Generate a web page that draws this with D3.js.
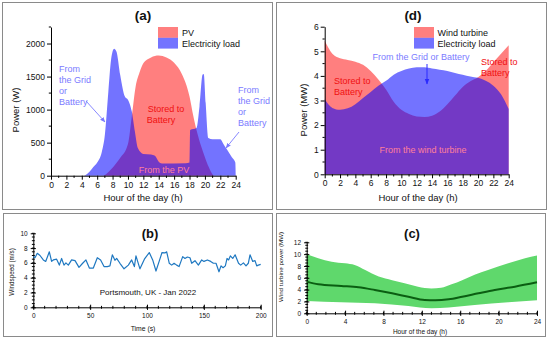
<!DOCTYPE html>
<html>
<head>
<meta charset="utf-8">
<script src="https://cdn.jsdelivr.net/npm/d3@7"></script>
<style>
  body { margin: 0; background: #fff; }
  svg { font-family: "Liberation Sans", Arial, sans-serif; display: block; }
  .domain, .tick line, .minor { stroke: #000; }
</style>
</head>
<body>
<div id="chart"></div>
<script>
// ---- (a) PV output vs household load (W) ----
const pvHours   = [0, 6.8, 7.5, 8, 9, 10, 10.5, 11, 11.5, 12, 13, 14, 15, 16, 17, 18, 18.5, 19, 19.5, 20, 20.5, 21, 21.2, 24];
const pvPower   = [0, 0, 60, 120, 270, 480, 900, 1350, 1560, 1700, 1790, 1820, 1790, 1710, 1540, 1200, 900, 650, 450, 280, 130, 20, 0, 0];
const loadHours = [0, 4.2, 5, 5.5, 6, 6.6, 7, 7.45, 7.8, 8.2, 8.5, 9, 9.6, 10, 10.5, 10.9, 11.3, 12, 13, 13.5, 14, 14.4, 17.5, 18, 18.08, 18.9, 19.3, 19.7, 19.85, 20.1, 20.45, 21, 22, 22.4, 22.85, 23.5, 23.95, 24];
const loadPower = [0, 0, 60, 130, 200, 360, 620, 1270, 1750, 1920, 1880, 1520, 1200, 1150, 970, 670, 415, 330, 320, 300, 210, 185, 190, 200, 690, 720, 1050, 1530, 1540, 1100, 570, 550, 550, 480, 400, 280, 200, 0];

// ---- (d) wind turbine output vs load (MW) ----
const dayHours    = [0, 1, 2, 3, 4, 5, 6, 7, 8, 9, 10, 11, 12, 13, 14, 15, 16, 17, 18, 19, 20, 21, 22, 23, 24];
const turbinePow  = [5.43, 4.9, 4.72, 4.65, 4.58, 4.45, 4.2, 3.85, 3.45, 2.95, 2.62, 2.45, 2.35, 2.33, 2.38, 2.55, 2.85, 3.2, 3.55, 3.78, 3.95, 4.2, 4.55, 4.9, 5.25];
const dLoadPow    = [3.05, 2.7, 2.62, 2.68, 2.85, 3.1, 3.35, 3.6, 3.8, 4.05, 4.2, 4.3, 4.35, 4.35, 4.3, 4.25, 4.2, 4.12, 4.05, 3.98, 3.92, 3.8, 3.6, 3.25, 2.65];

// ---- (b) wind speed record, Portsmouth Jan 2022 ----
const windTime  = [0, 1.5, 3.5, 5.9, 8.8, 10.9, 14.1, 16.1, 17.6, 20.5, 22.9, 24.9, 27, 28.7, 30.8, 33.7, 36.7, 40.2, 43.4, 46.3,
                   49.3, 52.8, 56.3, 59.2, 62.2, 65.1, 67.4, 69.5, 71.8, 73.3, 76.2, 79.8, 83.6, 86.5, 88.9, 90.3, 93.8, 97.7, 102, 105,
                   107.9, 110.9, 113.2, 115.8, 117.3, 119.6, 121.7, 123.8, 126.1, 128.2, 131.4, 133.4, 135.5, 137.8, 139.3, 142.2, 145.2, 148.1, 150.1, 153.1,
                   156, 158.4, 160.7, 163.3, 165.1, 166.9, 168.9, 170.4, 171.8, 173.3, 175.4, 177.5, 180.5, 182.4, 184.8, 187.1, 189.1, 190.6, 193, 195,
                   196.5, 197.9, 200];
const windSpeed = [6.85, 6.7, 7.3, 7.0, 6.4, 6.2, 7.5, 6.2, 6.4, 6.5, 5.7, 6.6, 5.7, 6.0, 5.7, 6.4, 6.3, 5.4, 5.95, 6.4,
                   5.3, 5.3, 6.7, 6.4, 5.5, 5.5, 5.6, 7.1, 6.35, 6.6, 5.95, 5.2, 5.7, 6.4, 5.5, 6.95, 5.2, 6.5, 7.4, 6.4,
                   4.9, 6.3, 7.4, 7.35, 7.5, 5.95, 5.7, 5.95, 5.7, 5.5, 6.85, 6.6, 6.8, 6.7, 5.95, 6.3, 5.7, 6.4, 6.2, 6.4,
                   6.2, 5.95, 5.95, 4.8, 5.6, 5.35, 5.6, 6.6, 6.4, 6.95, 6.6, 7.1, 5.95, 5.7, 6.0, 5.6, 5.95, 7.1, 6.2, 6.3,
                   5.6, 5.7, 5.8];

// ---- (c) turbine power over the day: mean with min/max band (MW) ----
const bandHours = [0, 1.2, 2.6, 4, 5, 6.1, 7.5, 8.9, 10.2, 11.6, 13, 14, 15.1, 16.2, 17.5, 18.9, 21, 22.75, 24];
const bandHigh  = [9.97, 9.3, 8.73, 8.45, 8.17, 7.3, 6.2, 5.6, 5.07, 4.5, 4.2, 4.3, 4.9, 5.6, 6.5, 7.3, 8.45, 9.3, 9.75];
const lowHours  = [0, 3.6, 7.1, 10.6, 13, 14.8, 17.5, 21, 24];
const bandLow   = [2.08, 1.86, 1.7, 1.24, 0.85, 1.0, 1.4, 1.86, 2.2];
const meanHours = [0, 1.2, 3.6, 5.4, 7.1, 8.9, 10.6, 12.3, 13.4, 14.8, 16.2, 17.9, 19.6, 21.7, 24];
const meanPow   = [5.35, 4.9, 4.62, 4.4, 3.94, 3.38, 2.8, 2.25, 2.2, 2.37, 2.8, 3.38, 3.94, 4.5, 5.24];

const W = 550, H = 340;
const svg = d3.select('#chart').append('svg').attr('width', W).attr('height', H);
svg.append('rect').attr('width', W).attr('height', H).attr('fill', '#fff');

// panel frames
[[2.5, 2.5, 270, 207], [276.5, 2.5, 270, 207], [3.5, 213.5, 269, 123], [276.5, 213.5, 269, 123]]
  .forEach(([x, y, w, h]) => svg.append('rect').attr('x', x).attr('y', y).attr('width', w).attr('height', h)
    .attr('fill', 'none').attr('stroke', '#8a8a8a').attr('stroke-width', 1));

const fmt = d3.format('~g');

// axes with major + minor ticks; cross=true draws ticks through the axis line
function axes(x, y, o) {
  const g = svg.append('g');
  const xg = g.append('g').attr('transform', `translate(0,${y.range()[0]})`)
    .call(d3.axisBottom(x).tickValues(o.xMajor).tickFormat(fmt).tickSize(o.tick).tickSizeOuter(0).tickPadding(o.pad));
  const yg = g.append('g').attr('transform', `translate(${x.range()[0]},0)`)
    .call(d3.axisLeft(y).tickValues(o.yMajor).tickFormat(fmt).tickSize(o.tick).tickSizeOuter(0).tickPadding(o.pad));
  [xg, yg].forEach(a => {
    a.selectAll('text').attr('font-size', o.font).attr('fill', '#111').attr('font-family', null);
    a.select('.domain').attr('stroke-width', 1);
  });
  if (o.cross) {
    xg.selectAll('.tick line').attr('y1', -o.tick);
    yg.selectAll('.tick line').attr('x1', o.tick);
  }
  const m = o.tick * 0.55;
  xg.selectAll('.minor').data(o.xMinor).join('line').attr('class', 'minor')
    .attr('x1', d => x(d)).attr('x2', d => x(d)).attr('y1', o.cross ? -m : 0).attr('y2', m);
  yg.selectAll('.minor').data(o.yMinor).join('line').attr('class', 'minor')
    .attr('y1', d => y(d)).attr('y2', d => y(d)).attr('x1', o.cross ? m : 0).attr('x2', -m);
  return g;
}

function label(txt, x, y, size, opt = {}) {
  const t = svg.append('text').attr('x', x).attr('y', y).attr('font-size', size)
    .attr('text-anchor', opt.anchor || 'middle').attr('fill', opt.fill || '#111').text(txt);
  if (opt.bold) t.attr('font-weight', 'bold');
  if (opt.rotate) t.attr('transform', `rotate(-90,${x},${y})`);
  return t;
}

const defs = svg.append('defs');
function arrowHead(id, col) {
  defs.append('marker').attr('id', id).attr('viewBox', '0 0 10 10').attr('refX', 9).attr('refY', 5)
    .attr('markerWidth', 6).attr('markerHeight', 6).attr('orient', 'auto')
    .append('path').attr('d', 'M0,1 L10,5 L0,9 Z').attr('fill', col);
}
arrowHead('arrA', '#7b7bff');
arrowHead('arrD', '#2a2aff');

const hourTicks = d3.range(0, 25, 2), hourMinor = d3.range(1, 24, 2);
const RED = 'rgba(255,0,0,0.5)', BLUE = 'rgba(0,0,255,0.55)';
const TXT = 9;

// ================= (a) =================
{
  const x = d3.scaleLinear().domain([0, 24]).range([51, 235.7]);
  const y = d3.scaleLinear().domain([0, 2250]).range([175.7, 27]);
  const pv = pvHours.map((h, i) => [h, pvPower[i]]);
  const ld = loadHours.map((h, i) => [h, loadPower[i]]);
  const area = d3.area().x(d => x(d[0])).y0(y(0)).y1(d => y(d[1])).curve(d3.curveMonotoneX);
  svg.append('path').datum(pv).attr('d', area).attr('fill', RED);
  svg.append('path').datum(ld).attr('d', area).attr('fill', BLUE);
  axes(x, y, { xMajor: hourTicks, xMinor: hourMinor, yMajor: d3.range(0, 2001, 500), yMinor: d3.range(250, 2251, 500),
               tick: 4, pad: 2, font: 8.5 });
  label('(a)', 143, 20, 13.5, { bold: true });
  label('Power (W)', 19, 110, 9.5, { rotate: true });
  label('Hour of the day (h)', 143, 201, 9.5);
  // legend
  [['PV', RED], ['Electricity load', BLUE]].forEach(([t, c], i) => {
    svg.append('rect').attr('x', 158).attr('y', 27 + i * 10.8).attr('width', 20).attr('height', 10.8).attr('fill', c);
    label(t, 182, 35.8 + i * 10.8, TXT, { anchor: 'start' });
  });
  const lb = '#7b7bff';
  ['From', 'the Grid', 'or', 'Battery'].forEach((t, i) => label(t, 59, 71.5 + i * 11, TXT, { anchor: 'start', fill: lb }));
  ['From', 'the Grid', 'or', 'Battery'].forEach((t, i) => label(t, 238, 92.5 + i * 11, TXT, { anchor: 'start', fill: lb }));
  svg.append('line').attr('x1', 86).attr('y1', 101).attr('x2', 105).attr('y2', 122)
    .attr('stroke', lb).attr('stroke-width', 0.9).attr('marker-end', 'url(#arrA)');
  svg.append('line').attr('x1', 239).attr('y1', 132).attr('x2', 226).attr('y2', 148)
    .attr('stroke', lb).attr('stroke-width', 0.9).attr('marker-end', 'url(#arrA)');
  label('Stored to', 166, 112, TXT, { fill: '#f01010' });
  label('Battery', 161, 123, TXT, { fill: '#f01010' });
  label('From the PV', 164, 173, TXT, { fill: '#ff7f9a' });
}

// ================= (d) =================
{
  const x = d3.scaleLinear().domain([0, 24]).range([324.7, 508.7]);
  const y = d3.scaleLinear().domain([0, 6]).range([174.3, 26.7]);
  const area = d3.area().x((d, i) => x(dayHours[i])).y0(y(0)).y1(d => y(d)).curve(d3.curveMonotoneX);
  svg.append('path').datum(turbinePow).attr('d', area).attr('fill', RED);
  svg.append('path').datum(dLoadPow).attr('d', area).attr('fill', BLUE);
  axes(x, y, { xMajor: hourTicks, xMinor: hourMinor, yMajor: d3.range(0, 7), yMinor: d3.range(0.5, 6, 1),
               tick: 4, pad: 2, font: 8.5 });
  label('(d)', 413, 20, 13.5, { bold: true });
  label('Power (MW)', 307, 110, 9.5, { rotate: true });
  label('Hour of the day (h)', 418, 201, 9.5);
  [['Wind turbine', RED], ['Electricity load', BLUE]].forEach(([t, c], i) => {
    svg.append('rect').attr('x', 414).attr('y', 27 + i * 10.8).attr('width', 20).attr('height', 10.8).attr('fill', c);
    label(t, 437.5, 35.8 + i * 10.8, TXT, { anchor: 'start' });
  });
  label('From the Grid or Battery', 421, 60, TXT, { fill: '#7b7bff' });
  svg.append('line').attr('x1', 427).attr('y1', 64).attr('x2', 427).attr('y2', 84)
    .attr('stroke', '#2a2aff').attr('stroke-width', 1).attr('marker-end', 'url(#arrD)');
  label('Stored to', 334, 84, TXT, { anchor: 'start', fill: '#f01010' });
  label('Battery', 334, 95, TXT, { anchor: 'start', fill: '#f01010' });
  label('Stored to', 481, 65, TXT, { anchor: 'start', fill: '#f01010' });
  label('Battery', 481, 76, TXT, { anchor: 'start', fill: '#f01010' });
  label('From the wind turbine', 423, 153, TXT, { fill: '#ff7f9a' });
}

// ================= (b) =================
{
  const x = d3.scaleLinear().domain([0, 200]).range([33.3, 260.7]);
  const y = d3.scaleLinear().domain([0, 10]).range([307.3, 233.3]);
  axes(x, y, { xMajor: d3.range(0, 201, 50), xMinor: d3.range(0, 201, 10), yMajor: d3.range(0, 11, 2), yMinor: d3.range(0, 10.01, 0.5),
               tick: 2.6, pad: 3, font: 6.5, cross: true });
  const line = d3.line().x((d, i) => x(windTime[i])).y(d => y(d));
  svg.append('path').datum(windSpeed).attr('d', line).attr('fill', 'none')
    .attr('stroke', '#1f78c1').attr('stroke-width', 1.2).attr('stroke-linejoin', 'round');
  label('(b)', 150, 238, 13, { bold: true });
  label('Portsmouth, UK - Jan 2022', 148, 295, 8);
  label('Time (s)', 143, 331, 6.8);
  label('Windspeed (m/s)', 14, 272, 6.3, { rotate: true });
}

// ================= (c) =================
{
  const x = d3.scaleLinear().domain([0, 24]).range([306.7, 537]);
  const y = d3.scaleLinear().domain([0, 12]).range([313.3, 242.3]);
  // band: upper edge left to right, then lower edge right to left
  const upper = d3.line().x((d, i) => x(bandHours[i])).y(d => y(d)).curve(d3.curveMonotoneX)(bandHigh);
  const lowerPts = lowHours.map((h, i) => [h, bandLow[i]]).reverse();
  const lower = d3.line().x(d => x(d[0])).y(d => y(d[1])).curve(d3.curveMonotoneX)(lowerPts);
  svg.append('path').attr('d', upper + 'L' + lower.slice(1) + 'Z').attr('fill', '#5fd86c');
  axes(x, y, { xMajor: d3.range(0, 25, 4), xMinor: d3.range(0, 24.01, 1), yMajor: d3.range(0, 13, 2), yMinor: d3.range(0, 12.01, 0.5),
               tick: 2.6, pad: 3, font: 6.5, cross: true });
  svg.append('path').datum(meanPow).attr('d', d3.line().x((d, i) => x(meanHours[i])).y(d => y(d)).curve(d3.curveMonotoneX))
    .attr('fill', 'none').attr('stroke', '#0b5e12').attr('stroke-width', 2);
  label('(c)', 412, 238, 13, { bold: true });
  label('Hour of the day (h)', 420, 334, 6.5);
  label('Wind turbine power (MW)', 283, 267, 6.2, { rotate: true });
}
</script>
</body>
</html>
